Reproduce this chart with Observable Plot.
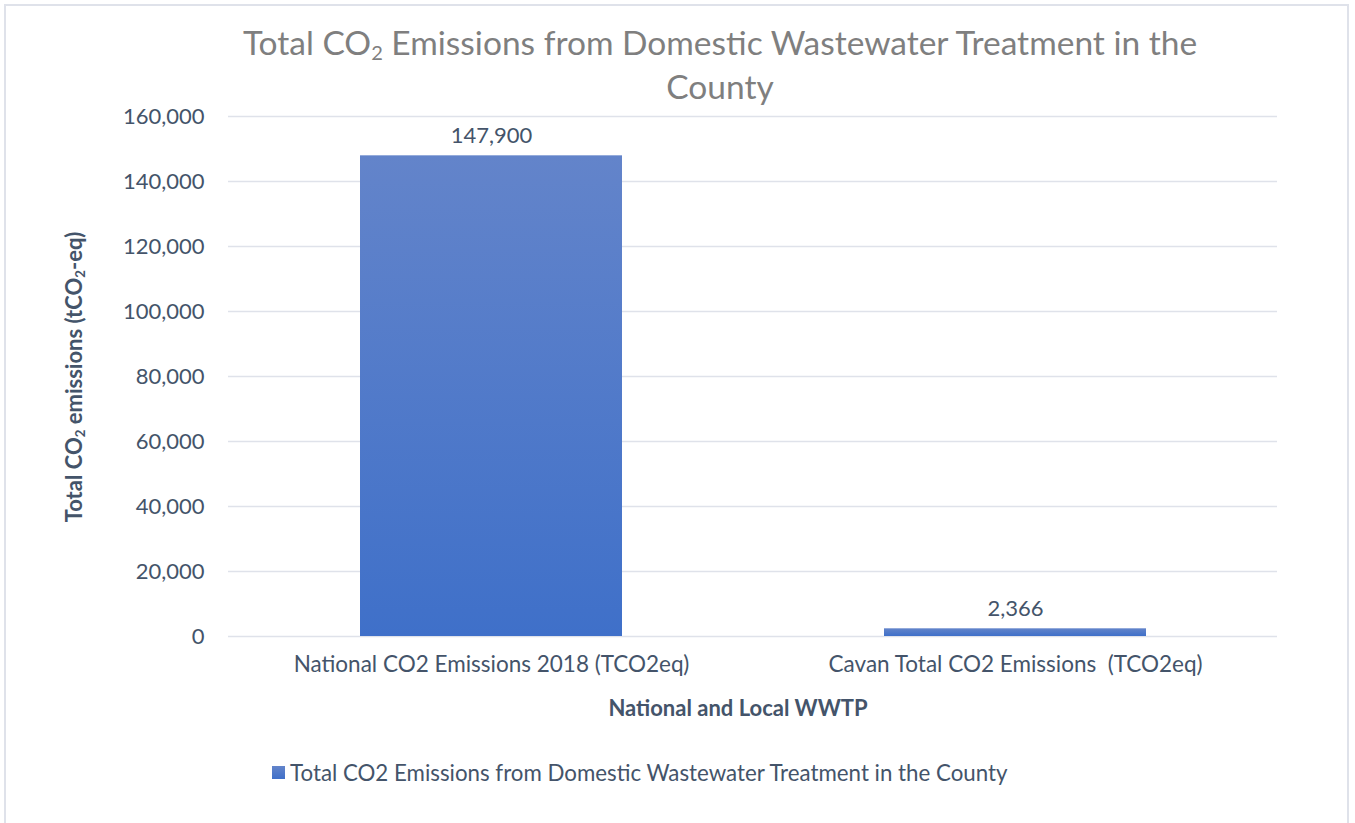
<!DOCTYPE html>
<html><head><meta charset="utf-8">
<script src="https://cdn.jsdelivr.net/npm/d3@7"></script>
<script src="https://cdn.jsdelivr.net/npm/@observablehq/plot@0.6"></script>
<style>
body{margin:0;background:#fff;font-family:Lato,"Open Sans",sans-serif;}
#wrap{position:relative;width:1355px;height:823px;overflow:hidden;background:#fff;}
#frame{position:absolute;left:4px;top:4px;width:1345px;height:840px;border:2px solid #dfe2ea;box-sizing:border-box;}
#title{position:absolute;left:170px;width:1100px;top:20px;text-align:center;color:#7f7f7f;font-size:33.5px;line-height:44px;}
#title sub{font-size:0.6em;vertical-align:-0.25em;line-height:0;}
#ylab{position:absolute;left:73px;top:377px;transform:translate(-50%,-50%) rotate(-90deg);white-space:nowrap;font-weight:bold;font-size:22px;color:#44546a;}
#ylab sub{font-size:0.6em;vertical-align:-0.25em;line-height:0;}
#chart{position:absolute;left:0;top:100px;}
#legend{position:absolute;left:272px;top:759px;display:flex;align-items:center;font-size:22.3px;color:#44546a;white-space:nowrap;}
#legend .sw{width:13px;height:13px;margin-right:5px;background:linear-gradient(#6384ca,#3f70c9);}
</style></head>
<body>
<div id="wrap">
  <div id="frame"></div>
  <div id="title">Total CO<sub>2</sub> Emissions from Domestic Wastewater Treatment in the<br>County</div>
  <div id="ylab">Total CO<sub>2</sub> emissions (tCO<sub>2</sub>-eq)</div>
  <div id="chart"></div>
  <div id="legend"><span class="sw"></span><span id="legtext"></span></div>
</div>
<script>
const categories = ["National CO2 Emissions 2018 (TCO2eq)", "Cavan Total CO2 Emissions  (TCO2eq)"];
const values = [147900, 2366];
const yTicks = [0, 20000, 40000, 60000, 80000, 100000, 120000, 140000, 160000];
const seriesName = "Total CO2 Emissions from Domestic Wastewater Treatment in the County";
const xTitle = "National and Local WWTP";

const data = categories.map((c, i) => ({category: c, value: values[i]}));
const fmt = d3.format(",");
const textColor = "#44546a";

const gradient = () => {
  const defs = d3.create("svg:defs");
  const g = defs.append("linearGradient").attr("id", "barGrad").attr("x1", 0).attr("y1", 0).attr("x2", 0).attr("y2", 1);
  g.append("stop").attr("offset", "0%").attr("stop-color", "#6384ca");
  g.append("stop").attr("offset", "100%").attr("stop-color", "#3f70c9");
  return defs.node();
};

const chart = Plot.plot({
  width: 1355,
  height: 640,
  marginLeft: 228,
  marginRight: 78,
  marginTop: 16,
  marginBottom: 104,
  style: {fontFamily: "Lato, 'Open Sans', sans-serif", background: "transparent"},
  x: {domain: categories, paddingInner: 0.5, paddingOuter: 0.25, label: null},
  y: {domain: [0, 160000], label: null},
  marks: [
    gradient,
    Plot.gridY(yTicks, {stroke: "#dfe2ea", strokeOpacity: 1, strokeWidth: 1.5}),
    Plot.barY(data, {x: "category", y: "value", fill: "url(#barGrad)"}),
    Plot.text(data, {x: "category", y: "value", text: d => fmt(d.value), dy: -20, lineAnchor: "middle", fontSize: 22, fill: textColor}),
    Plot.axisY(yTicks, {tickSize: 0, tickPadding: 24, tickFormat: fmt, fontSize: 22, color: textColor, label: null}),
    Plot.axisX({tickSize: 0, tickPadding: 20, fontSize: 22.5, color: textColor, label: null}),
    Plot.text([xTitle], {frameAnchor: "bottom", dx: -15, dy: 72, fontSize: 22, fontWeight: "bold", fill: textColor, lineAnchor: "middle"})
  ]
});
document.getElementById("chart").appendChild(chart);
document.getElementById("legtext").textContent = seriesName;
</script>
</body></html>
